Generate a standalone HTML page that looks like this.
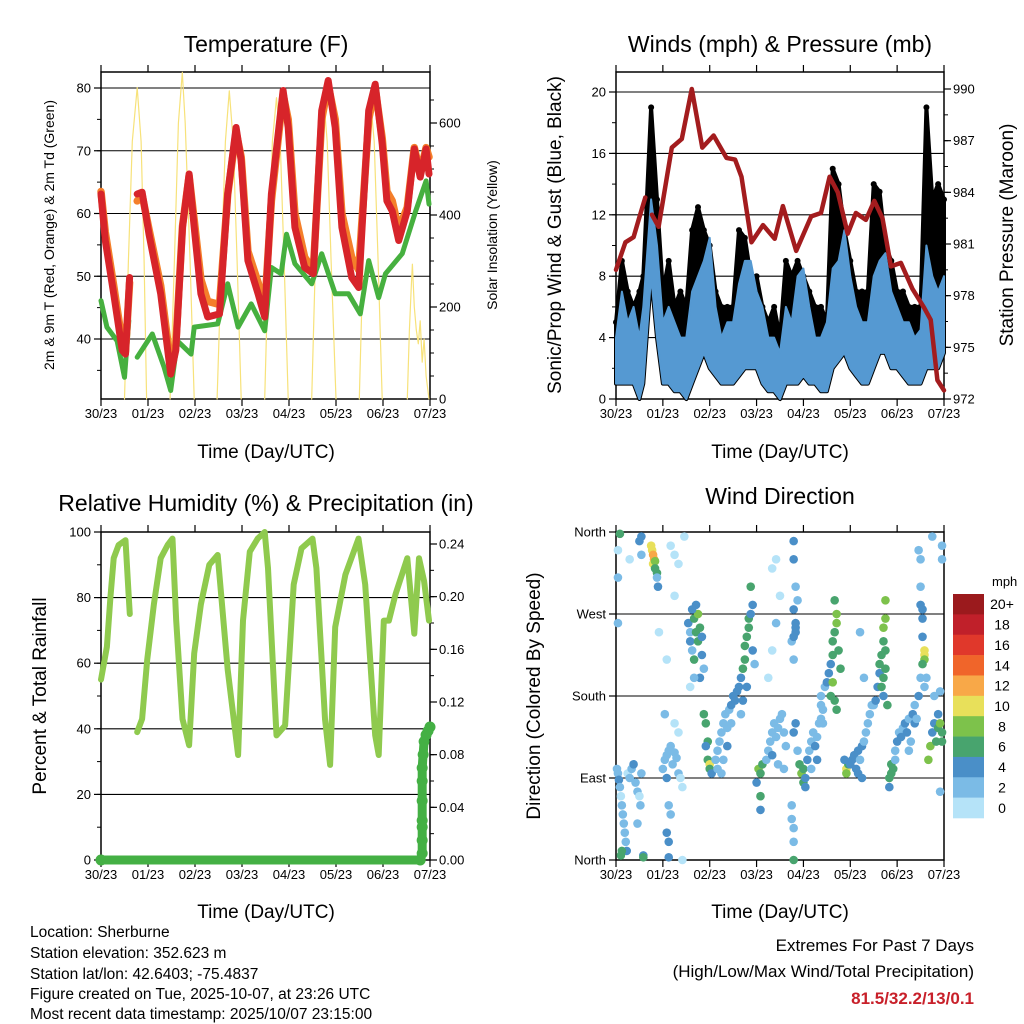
<!DOCTYPE html>
<html><head><meta charset="utf-8"><title>Weather Station Sherburne</title>
<style>
html,body{margin:0;padding:0;background:#fff;}
svg{display:block;font-family:"Liberation Sans",sans-serif;}
.t{font-size:13px;fill:#000;}
.ttl{font-size:23px;fill:#000;}
.ax{font-size:19px;fill:#000;}
.info{font-size:15.5px;fill:#000;}
</style></head>
<body>
<svg id="chart" xmlns="http://www.w3.org/2000/svg" width="1024" height="1024" viewBox="0 0 1024 1024">
<rect x="0" y="0" width="1024" height="1024" fill="#fff"/>
<text class="ttl" x="266" y="52" text-anchor="middle">Temperature (F)</text>
<text class="ttl" x="780" y="52" text-anchor="middle">Winds (mph) &amp; Pressure (mb)</text>
<text class="ttl" x="266" y="511" text-anchor="middle">Relative Humidity (%) &amp; Precipitation (in)</text>
<text class="ttl" x="780" y="504" text-anchor="middle">Wind Direction</text>
<text class="ax" x="266" y="458" text-anchor="middle">Time (Day/UTC)</text>
<text class="ax" x="780" y="458" text-anchor="middle">Time (Day/UTC)</text>
<text class="ax" x="266" y="918" text-anchor="middle">Time (Day/UTC)</text>
<text class="ax" x="780" y="918" text-anchor="middle">Time (Day/UTC)</text>
<text x="54" y="235" font-size="14" text-anchor="middle" transform="rotate(-90 54 235)">2m &amp; 9m T (Red, Orange) &amp; 2m Td (Green)</text>
<text x="497" y="235" font-size="14" text-anchor="middle" transform="rotate(-90 497 235)">Solar Insolation (Yellow)</text>
<text class="ax" x="561" y="235" text-anchor="middle" transform="rotate(-90 561 235)">Sonic/Prop Wind &amp; Gust (Blue, Black)</text>
<text class="ax" x="1013" y="235" text-anchor="middle" transform="rotate(-90 1013 235)">Station Pressure (Maroon)</text>
<text class="ax" x="46" y="696" text-anchor="middle" transform="rotate(-90 46 696)">Percent &amp; Total Rainfall</text>
<text class="ax" x="540" y="696" text-anchor="middle" transform="rotate(-90 540 696)">Direction (Colored By Speed)</text>
<text class="t" x="992" y="586" font-size="14" text-anchor="start">mph</text>
<g>
<text class="info" x="30" y="937">Location: Sherburne</text>
<text class="info" x="30" y="958">Station elevation: 352.623 m</text>
<text class="info" x="30" y="979">Station lat/lon: 42.6403; -75.4837</text>
<text class="info" x="30" y="999">Figure created on Tue, 2025-10-07, at 23:26 UTC</text>
<text class="info" x="30" y="1019">Most recent data timestamp: 2025/10/07 23:15:00</text>
</g>
<text x="974" y="951" font-size="17" text-anchor="end">Extremes For Past 7 Days</text>
<text x="974" y="977" font-size="17" text-anchor="end">(High/Low/Max Wind/Total Precipitation)</text>
<text x="974" y="1004" font-size="17" font-weight="bold" fill="#c8202a" text-anchor="end">81.5/32.2/13/0.1</text>
<g id="layer"></g>
</svg>
<script>
const dayLabels=['30/23','01/23','02/23','03/23','04/23','05/23','06/23','07/23'];
const tempHours=[0,2.2,6.5,10.8,12.5,14.6,16,18.5,21,24.5,30.5,35.6,38.2,41.6,45,47.6,51,54.5,60.5,64.7,69,71.6,75,80.2,83.6,87,93,95.6,99,104,108.4,112.7,116,119.6,123,128,131.6,136.7,140,143.6,146,148.7,152,156.4,160,163,166,167.5];
const tempRed=[63.1,55.7,47.2,38.2,37.6,49.8,null,63.1,63.4,56.7,47.2,34.4,38.2,57.8,66.3,57.8,47.2,43.5,44,63.1,73.7,68.4,52.5,47.2,43.5,63.1,79.6,73.7,57.8,51.4,50.4,76.4,81.2,73.7,57.8,49.8,48.2,76.4,80.6,71.1,62,60.4,55.7,60.4,70.3,65.8,70.3,66.3];
const tempOrange=[63.5,57,48.5,39.5,38,49,null,62,63,57.5,48.5,36,39,58,66,59,49.5,46,45.5,63,73,69,54,49,45,62,79,75,60,53,51,75,80.5,75,60,53,51,75,80,72,63.5,62,57.5,61,70.5,66.5,70.5,69];
const dewHours=[0,3,8.2,12,14.2,16,18.5,26.2,32.2,35.6,39,46,47.6,59.6,64.7,70,76.7,83.6,87,92,94.7,99,107.6,112.7,119.6,126.4,132.4,136.7,141.8,145.3,153.8,160.7,166,167.5];
const dewVals=[46.1,41.9,39.7,33.9,42.9,null,37.1,40.8,35.5,31.8,39.7,37.6,41.9,42.4,48.8,41.9,45.6,41.3,51.4,50.4,56.7,52,48.8,53.6,47.2,47.2,44,52.5,46.6,50.4,53.6,60.4,65.2,61.5];
const solarHours=[12,14,16,18.5,20.5,22,23.3,null,35.3,37.5,39.5,41.5,43,45.5,47.6,null,59.3,61.5,63.5,65.5,67.5,69.5,71.6,null,83.6,85.5,87.5,89.6,91.5,93.5,95.6,null,107.6,109.5,111.5,113.5,115.5,117.5,120,null,131.9,133.8,135.7,137.5,139.5,141.5,143.6,null,156.4,157.5,158.5,159,160,161,162,163,164,165,166,167.5];
const solarVals=[0,300,560,677,560,300,0,null,0,300,600,710,600,300,0,null,0,300,560,670,560,300,0,null,0,300,560,655,560,300,0,null,0,300,560,662,560,300,0,null,0,300,560,655,560,300,0,null,0,150,250,293,200,150,120,170,80,130,50,0];
const tempTicks=[40,50,60,70,80];
const solarTicks=[0,200,400,600];

const windHours=[0,3,6,9,12,14,18,21,24,27,30,33,36,39,42,45,48,51,54,57,60,63,66,69,72,75,78,81,84,87,90,93,96,99,102,105,108,111,114,117,120,123,126,129,132,135,138,141,144,147,150,153,156,159,162,165,168];
const windHi=[4,7,5,6,4,6,13,10,5,6,5,4,4,7,8,9,10.5,6,4,5,5,7.5,9,9,7,6,4,4,3,6,5,8,8.5,6,4,4,5,8.5,9,11,8,6,5,5,8,9,9.5,7,6,5,5,4,4.5,10,8,7,8];
const windLo=[1,1,1,1,0,1,8,4,1,1,0.5,0.5,0,1,2,3,2,1.5,1,1,1,1.5,2,2,2,1,0.5,0.5,0,1,1,1,1.5,1,1,0.5,0.5,2,2.5,3,2,1.5,1,1,2,3,3,2,2,1.5,1,1,1,2,2,2,3];
const gustHi=[5,9,7,6,7,8,19,13,7,9,6,7,6,11,12.5,11,10,7,6,6,6,11,10.5,8,8,6,5,6,4,9,8,9,8,7,6,6,5,15,14,11,9,7,7,7,14,13.5,10,9,7,7,6,6,6,19,13,14,13];
const presHours=[0,4.8,9,11.6,15,16.5,18.4,21.8,25.2,28.6,33.7,38.8,44.2,50,56.6,61,64.3,69.4,75.3,81.3,85.5,92.3,100,105,109.4,113.6,118.7,122.9,128,132.3,136.5,140.8,145.9,151.8,157.8,161.2,164.6,168];
const presVals=[979.5,981.1,981.4,982.4,983.7,null,982.7,982,984.3,986.6,987.1,990,986.6,987.3,986,985.9,984.9,981.1,982.1,981.3,983.2,980.6,982.6,982.8,984.9,984,981.6,982.8,982.4,983.5,982.5,979.7,979.9,978.4,977.3,976.6,973.1,972.5];
const windTicks=[0,4,8,12,16,20];
const presTicks=[972,975,978,981,984,987,990];

const rhHours=[0,3,4.8,6.5,9,12.5,14.2,14.7,16,18.5,21,23.6,27,30.5,34,36.5,38.4,41.6,45,47.6,51,55.3,59.6,64.7,70,72.5,76,80,83.6,85.3,89.6,94,98.4,102.4,108,110,114.4,117,119.6,124.8,131.5,134.9,140,141.8,144.4,147,150.4,156.4,160,162.4,165,167.5];
const rhVals=[55,65,80,92,96,97.5,80,75,null,39,43,61,78,92,96,98,73,43,35,63,78,90,93,58,32,73,94,98,100,89,38,41,84,95,98,89,43,29,71,87,98,84,38,32,73,73,81,92,69,92,85,73];
const precipHours=[0,163,164,164,164,164,164,164,164,164.5,165,166,167,168];
const precipVals=[0,0,0.005,0.015,0.025,0.03,0.045,0.06,0.07,0.08,0.09,0.095,0.098,0.101];
const rhTicks=[0,20,40,60,80,100];
const precipTicks=[0,0.04,0.08,0.12,0.16,0.20,0.24];

const dirHours=[0.5,1,1.5,2,2.5,3,3.5,4,4.5,5,5.5,3,2.5,6,7,8,9,10,11,12,12.5,11,13,14,14,1,1,2,1,7,13,12,13,
18,18.5,19,19.5,19,20,20,21,21.5,21,28,30,32,30,35,22,26,
24,25,26,27,28,29,30,31,32,33,34,26,27,26,27,27,28,25,30,32,34,
37,38,38,39,40,40,41,42,42,43,44,44,45,43,38,40,39,41,
45,46,47,47,48,48,49,46,
51,52,53,54,55,56,57,58,59,60,61,52,55,57,59,54,
62,63,64,65,66,66,67,68,68,69,70,69,70,71,67,65,64,
73,74,75,72,74,74,
77,78,79,80,81,82,83,84,85,86,87,80,83,86,78,80,82,84,80,82,
91,91,92,91,92,90,91,92,91,90,91,91,91,90,92,92,91,93,93,
95,96,96,97,97,94,
98,99,100,101,102,103,104,105,106,100,103,105,106,105,107,
108,109,110,111,111,112,113,113,112,114,115,110,112,113,111,
118,118,119,117,
120,121,122,123,124,125,126,127,128,129,130,131,124,126,125,127,132,
133,134,135,135,136,137,137,138,138,137,136,138,138,137,139,
140,141,142,141,140,143,
143,144,145,146,147,148,149,150,151,152,153,154,150,153,155,
155,156,156,156,157,157,157,158,158,158,157,156,158,159,
160,161,162,163,164,165,166,167,167,165,163,166,166,167,167,162];
const dirDeg=[100,95,88,80,70,60,50,40,30,20,10,10,5,95,90,100,105,85,75,70,60,40,95,5,3,340,310,358,260,330,335,350,355,
345,340,335,330,325,328,320,315,300,310,345,335,325,290,355,250,220,
100,110,115,120,125,105,118,112,95,90,80,90,60,30,20,3,50,160,150,140,0,
260,250,240,230,220,265,250,240,270,255,245,225,210,200,190,200,275,280,
160,150,130,110,105,100,95,125,
110,120,130,140,150,160,145,165,170,180,175,100,110,125,150,95,
185,190,200,210,220,235,245,255,265,270,280,300,230,215,190,175,160,
100,95,105,85,70,55,
110,120,130,140,150,135,145,155,160,140,125,115,105,100,200,230,260,290,320,330,
350,330,300,275,260,240,220,150,140,45,35,20,0,60,255,250,245,285,120,
95,100,85,90,80,105,
110,120,130,140,125,135,150,155,165,100,110,170,150,180,190,
195,205,215,225,240,250,260,270,285,230,210,180,175,165,195,
100,95,105,110,
105,110,115,100,120,110,125,130,140,150,160,170,95,90,250,200,170,
175,190,205,215,225,240,255,265,285,200,190,210,230,180,170,
90,95,100,105,80,110,
120,130,140,135,145,150,140,155,130,160,150,155,120,170,180,
340,330,300,280,275,265,245,230,225,220,215,200,190,200,
110,125,140,150,130,145,150,140,130,160,180,185,75,345,330,355];
const dirSpeed=[2,3,4,2,1,2,2,3,2,3,5,6,6,1,2,3,4,2,2,1,2,2,3,4,6,1,3,6,3,1,2,4,4,
10,11,12,12,11,8,7,6,4,3,1,1,1,1,1,1,1,
3,2,2,2,2,2,3,2,2,1,1,4,2,4,4,4,2,2,1,1,1,
4,2,5,3,6,7,7,6,8,7,5,4,3,4,1,2,4,4,
6,6,6,7,10,7,5,4,
2,3,3,2,2,2,3,3,4,4,4,2,2,4,2,2,
5,4,5,6,6,6,6,6,7,5,5,6,4,3,4,5,3,
8,7,6,5,6,4,
3,2,3,2,2,3,3,3,2,2,3,4,3,3,1,1,2,1,1,1,
4,4,3,4,4,3,3,5,4,3,2,2,6,2,4,5,4,3,3,
8,7,6,4,5,6,
4,3,3,3,4,3,3,2,2,3,4,2,3,3,2,
4,4,5,6,7,7,8,8,7,6,6,7,6,6,8,
10,8,6,5,
4,4,4,4,4,3,4,3,2,2,3,3,4,4,2,2,2,
4,5,5,6,6,7,8,8,8,7,6,6,7,5,6,
7,7,7,6,4,3,
3,4,3,4,3,4,4,3,3,4,4,3,2,2,4,
2,2,2,4,5,5,5,10,10,9,7,3,2,2,
8,8,5,5,6,6,8,7,7,4,3,2,2,3,3,2];
const dirTicks=[0,90,180,270,360];
const dirTickLabels=['North','East','South','West','North'];
const speedBins=['0','2','4','6','8','10','12','14','16','18','20+'];
const speedColors=['#b5e3f8','#7bbbe6','#4a8fc8','#48a46e','#7dc24b','#e8e05a','#f8a848','#f0652a','#e0382b','#c0202a','#9b1a1d'];

const NS='http://www.w3.org/2000/svg';
const layer=document.getElementById('layer');
function mk(tag,parent){const e=document.createElementNS(NS,tag);parent.appendChild(e);return e;}
function setA(e,o){for(const k in o)e.setAttribute(k,o[k]);return e;}

const PANELS={
 temp:{x0:101,x1:430,y0:72,y1:399},
 wind:{x0:616,x1:944,y0:72,y1:399},
 rh:{x0:101,x1:430,y0:532,y1:860},
 dir:{x0:616,x1:944,y0:532,y1:860}
};
function xS(p,h){return p.x0+h*(p.x1-p.x0)/168;}
function linScale(d0,d1,r0,r1){return v=>r0+(v-d0)*(r1-r0)/(d1-d0);}
const yTemp=linScale(40,80,339,88);
const ySolar=linScale(0,600,399,123);
const yWind=linScale(0,20,399,92);
const yPres=linScale(972,990,399,89);
const yRH=linScale(0,100,860,532);
const yPrec=linScale(0,0.24,860,544);
const yDir=linScale(0,360,860,532);

function pathFrom(p,hours,vals,yf){
 let d='',pen=false;
 for(let i=0;i<hours.length;i++){
  if(vals[i]===null||hours[i]===null){pen=false;continue;}
  const x=xS(p,hours[i]).toFixed(1),y=yf(vals[i]).toFixed(1);
  d+=(pen?'L':'M')+x+' '+y+' ';pen=true;
 }
 return d;
}

function frame(p,name){
 const g=mk('g',layer);
 
 
 for(let d=0;d<dayLabels.length;d++){
  const x=p.x0+d*(p.x1-p.x0)/7;
  const t1=mk('line',g);setA(t1,{x1:x,x2:x,y1:p.y0,y2:p.y0-7,stroke:'#000','stroke-width':1.2});
  
  
  const t2=mk('line',g);setA(t2,{x1:x,x2:x,y1:p.y1,y2:p.y1+7,stroke:'#000','stroke-width':1.2});
  
  
  const tx=mk('text',g);setA(tx,{x:x,y:p.y1+19,'text-anchor':'middle',class:'t'});tx.textContent=dayLabels[d];
  
  
 }
 return g;
}
function grid(p,g,vals,yf){
 for(const v of vals){
  const y=yf(v);
  const l=mk('line',g);setA(l,{x1:p.x0,x2:p.x1,y1:y,y2:y,stroke:'#000','stroke-width':1.1});
  
  
 }
}
function yTicksLeft(p,g,vals,yf,labels,step,minor){
 for(let i=0;i<vals.length;i++){
  const y=yf(vals[i]);
  const l=mk('line',g);setA(l,{x1:p.x0,x2:p.x0-7,y1:y,y2:y,stroke:'#000','stroke-width':1.2});
  
  
  const t=mk('text',g);setA(t,{x:p.x0-10,y:y+4.5,'text-anchor':'end',class:'t'});t.textContent=labels[i];
  
  
 }
 if(minor){for(const v of minor){const y=yf(v);if(y<p.y0-0.5||y>p.y1+0.5)continue;const l=mk('line',g);setA(l,{x1:p.x0,x2:p.x0-4,y1:y,y2:y,stroke:'#000','stroke-width':1});
  
  }}
}
function yTicksRight(p,g,vals,yf,labels,minor){
 for(let i=0;i<vals.length;i++){
  const y=yf(vals[i]);
  const l=mk('line',g);setA(l,{x1:p.x1,x2:p.x1+7,y1:y,y2:y,stroke:'#000','stroke-width':1.2});
  
  
  const t=mk('text',g);setA(t,{x:p.x1+9,y:y+4.5,'text-anchor':'start',class:'t'});t.textContent=labels[i];
  
  
 }
 if(minor){for(const v of minor){const y=yf(v);if(y<p.y0-0.5||y>p.y1+0.5)continue;const l=mk('line',g);setA(l,{x1:p.x1,x2:p.x1+4,y1:y,y2:y,stroke:'#000','stroke-width':1});
  
  }}
}
function border(p,g){
 const r=mk('rect',g);setA(r,{x:p.x0,y:p.y0,width:p.x1-p.x0,height:p.y1-p.y0,fill:'none',stroke:'#000','stroke-width':1.5});
 
 
}
function seriesPath(d,stroke,w,name,parent){
 const e=mk('path',parent||layer);setA(e,{d:d,fill:'none',stroke:stroke,'stroke-width':w,'stroke-linejoin':'round','stroke-linecap':'round'});
 
 
 return e;
}
function range(a,b,s){const r=[];for(let v=a;v<=b+1e-9;v+=s)r.push(+v.toFixed(4));return r;}

/* ---- Temperature panel ---- */
let P=PANELS.temp;
let g=frame(P,'temperature');
grid(P,g,tempTicks,yTemp);
yTicksLeft(P,g,tempTicks,yTemp,tempTicks.map(String),10,range(35,80,5));
yTicksRight(P,g,solarTicks,ySolar,solarTicks.map(String),range(0,650,50));
seriesPath(pathFrom(P,solarHours,solarVals,ySolar),'#f7e27a',1.2,'solar-insolation-line');
seriesPath(pathFrom(P,dewHours,dewVals,yTemp),'#46b03f',5,'dewpoint-line');
seriesPath(pathFrom(P,tempHours,tempOrange,yTemp),'#f47f2a',7.5,'temp-9m-line');
seriesPath(pathFrom(P,tempHours,tempRed,yTemp),'#d7242a',7,'temp-2m-line');
border(P,g);

/* ---- Wind panel ---- */
P=PANELS.wind;
g=frame(P,'wind');
grid(P,g,windTicks,yWind);
yTicksLeft(P,g,windTicks,yWind,windTicks.map(String),4,range(0,20,2));
yTicksRight(P,g,presTicks,yPres,presTicks.map(String),range(972,990,1.5));
(function(){
 let top='',bot='';
 for(let i=0;i<windHours.length;i++){top+=(i?'L':'M')+xS(P,windHours[i]).toFixed(1)+' '+yWind(gustHi[i]).toFixed(1)+' ';}
 for(let i=windHours.length-1;i>=0;i--){bot+='L'+xS(P,windHours[i]).toFixed(1)+' '+yWind(windLo[i]).toFixed(1)+' ';}
 const gp=mk('path',layer);setA(gp,{d:top+bot+'Z',fill:'#000',stroke:'#000','stroke-width':4,'stroke-linejoin':'round'});
 
 
 for(let i=0;i<windHours.length;i++){
  const c=mk('circle',layer);setA(c,{cx:xS(P,windHours[i]),cy:yWind(gustHi[i]),r:3,fill:'#000'});
  
  
 }
 let bt='',bb='';
 for(let i=0;i<windHours.length;i++){bt+=(i?'L':'M')+xS(P,windHours[i]).toFixed(1)+' '+yWind(windHi[i]).toFixed(1)+' ';}
 for(let i=windHours.length-1;i>=0;i--){bb+='L'+xS(P,windHours[i]).toFixed(1)+' '+yWind(windLo[i]).toFixed(1)+' ';}
 const bp=mk('path',layer);setA(bp,{d:bt+bb+'Z',fill:'#5599d2',stroke:'#5599d2','stroke-width':2,'stroke-linejoin':'round'});
 
 
})();
seriesPath(pathFrom(P,presHours,presVals,yPres),'#a31c1e',4.5,'pressure-line');
border(P,g);

/* ---- RH panel ---- */
P=PANELS.rh;
g=frame(P,'humidity');
grid(P,g,rhTicks,yRH);
yTicksLeft(P,g,rhTicks,yRH,rhTicks.map(String),20,range(0,100,10));
yTicksRight(P,g,precipTicks,yPrec,precipTicks.map(v=>v.toFixed(2)),range(0,0.24,0.02));
seriesPath(pathFrom(P,rhHours,rhVals,yRH),'#8fca4e',6,'humidity-line');
seriesPath(pathFrom(P,precipHours,precipVals,yPrec),'#44b044',9,'precip-line');
for(let i=0;i<precipHours.length;i++){
 const c=mk('circle',layer);setA(c,{cx:xS(P,precipHours[i]),cy:yPrec(precipVals[i]),r:5.5,fill:'#44b044'});
 
 
}
border(P,g);

/* ---- Direction panel ---- */
P=PANELS.dir;
g=frame(P,'direction');
grid(P,g,dirTicks,yDir);
yTicksLeft(P,g,dirTicks,yDir,dirTickLabels,90,null);
for(let i=0;i<dirHours.length;i++){
 const b=Math.min(10,Math.floor(dirSpeed[i]/2));
 const c=mk('circle',layer);setA(c,{cx:xS(P,dirHours[i]),cy:yDir(dirDeg[i]),r:4.3,fill:speedColors[b]});
 
 
}
border(P,g);

/* ---- Colorbar ---- */
const cb=mk('g',layer);


const cbTop=594,cbH=224/speedBins.length;
for(let i=0;i<speedBins.length;i++){
 const k=speedBins.length-1-i;
 const r=mk('rect',cb);setA(r,{x:953,y:cbTop+i*cbH,width:31,height:cbH+0.3,fill:speedColors[k]});
 
 
 const t=mk('text',cb);setA(t,{x:1002,y:cbTop+i*cbH+cbH/2+5,'text-anchor':'middle','font-size':14});t.textContent=speedBins[k];
 
 
}
</script>
</body></html>
